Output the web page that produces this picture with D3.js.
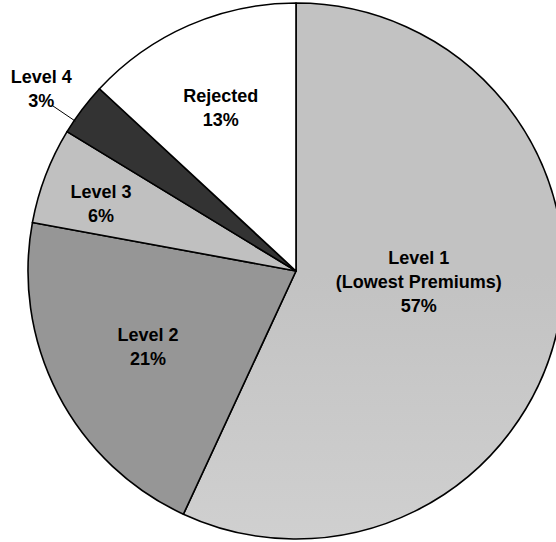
<!DOCTYPE html>
<html>
<head>
	<meta charset="utf-8">
	<title>Pie - premium levels</title>
	<style>
		body { margin: 0; background: #fff; }
		svg { display: block; }
	</style>
</head>
<body>
	<script src="https://d3js.org/d3.v7.min.js" charset="utf-8"></script>
	<script>
var categories = ['Level 1|(Lowest Premiums)', 'Level 2', 'Level 3', 'Level 4', 'Rejected'];
var values = [56.9, 21.0, 5.8, 3.2, 13.1];
var pctLabels = ['57%', '21%', '6%', '3%', '13%'];
var colors = ['url(#lvl1)', '#969696', '#c0c0c0', '#333333', '#ffffff'];

// label placement: radius as share of pie radius, angle nudge in degrees
var labelR = [0.46, 0.62, 0.77, 1.17, 0.67];
var labelNudge = [-7.3, 0.3, -1.7, -1.4, -1.2];

var width = 556, height = 542;
var cx = 296, cy = 271, r = 268;
var fontSize = 18, lineGap = 24;

var svg = d3.select('body').append('svg')
			.attr('width', width)
			.attr('height', height);

var grad = svg.append('defs').append('linearGradient')
	.attr('id', 'lvl1')
	.attr('gradientUnits', 'userSpaceOnUse')
	.attr('x1', 0).attr('y1', cy - r)
	.attr('x2', 0).attr('y2', cy + r);
grad.append('stop').attr('offset', 0).attr('stop-color', '#c2c2c2');
grad.append('stop').attr('offset', 1).attr('stop-color', '#dedede');

var pie = d3.pie().sort(null).value(function(d) { return d; });
var arc = d3.arc().innerRadius(0).outerRadius(r);
var arcs = pie(values);

var g = svg.append('g').attr('transform', 'translate(' + cx + ',' + cy + ')');

g.selectAll('path.slice')
	.data(arcs)
	.enter()
	.append('path')
	.attr('class', 'slice')
	.attr('d', arc)
	.attr('fill', function(d, i) { return colors[i]; })
	.attr('stroke', '#000')
	.attr('stroke-width', 1.6)
	.attr('stroke-linejoin', 'round');

function polar(d, i, k, extra) {
	var a = (d.startAngle + d.endAngle) / 2 + (labelNudge[i] + (extra || 0)) * Math.PI / 180;
	return [Math.sin(a) * r * k, -Math.cos(a) * r * k];
}

// leader line for the label that sits outside the pie
arcs.forEach(function(d, i) {
	if (labelR[i] > 1) {
		var p0 = polar(d, i, 1.10, -1.5);
		var p1 = polar(d, i, 0.995, -1.5);
		g.append('line')
			.attr('x1', p0[0]).attr('y1', p0[1])
			.attr('x2', p1[0]).attr('y2', p1[1])
			.attr('stroke', '#000')
			.attr('stroke-width', 1);
	}
});

var labels = g.selectAll('text.lbl')
	.data(arcs)
	.enter()
	.append('text')
	.attr('class', 'lbl')
	.attr('text-anchor', 'middle')
	.attr('font-family', 'Liberation Sans, Arial, sans-serif')
	.attr('font-weight', 'bold')
	.attr('font-size', fontSize)
	.attr('fill', '#000');

labels.each(function(d, i) {
	var lines = categories[i].split('|').concat([pctLabels[i]]);
	var p = polar(d, i, labelR[i]);
	var top = p[1] - (lines.length - 1) * lineGap / 2 + 0.36 * fontSize;
	var t = d3.select(this);
	lines.forEach(function(s, j) {
		t.append('tspan')
			.attr('x', p[0])
			.attr('y', top + j * lineGap)
			.text(s);
	});
});
	</script>
</body>
</html>
